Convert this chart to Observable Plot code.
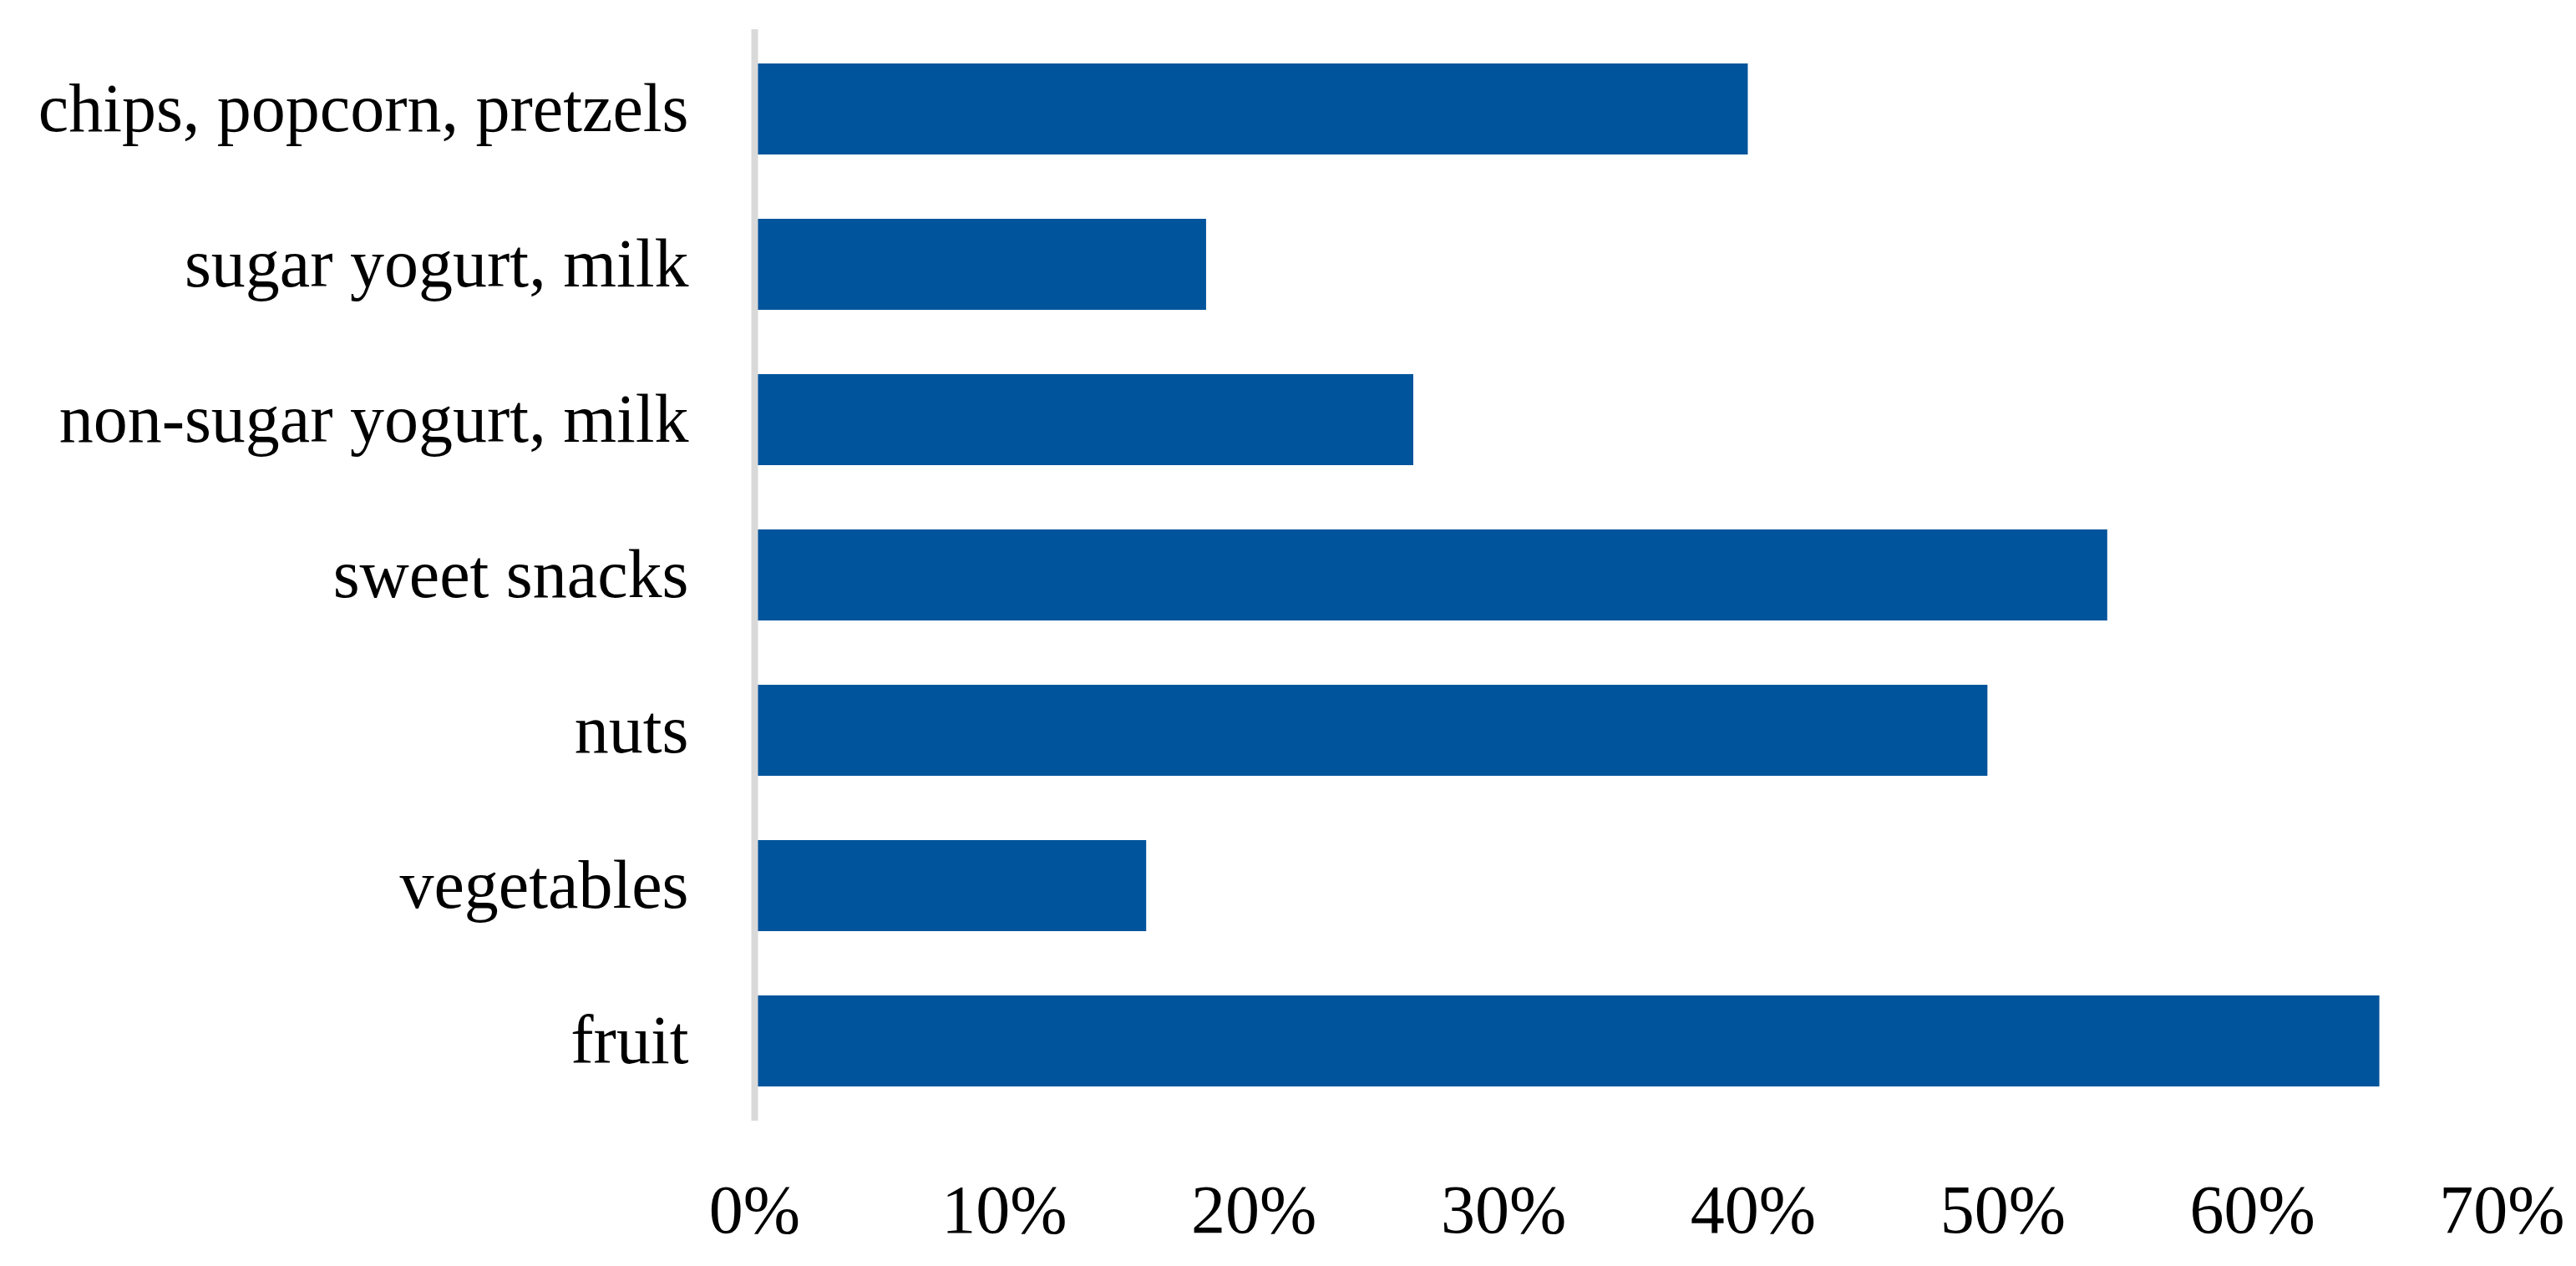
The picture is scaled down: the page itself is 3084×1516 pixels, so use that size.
<!DOCTYPE html>
<html>
<head>
<meta charset="utf-8">
<script src="https://cdn.jsdelivr.net/npm/d3@7"></script>
<script src="https://cdn.jsdelivr.net/npm/@observablehq/plot@0.6"></script>
<style>
  html, body { margin: 0; padding: 0; background: #ffffff; }
  #chart svg { display: block; }
</style>
</head>
<body>
<div id="chart"></div>
<script>
const categories = [
  "chips, popcorn, pretzels",
  "sugar yogurt, milk",
  "non-sugar yogurt, milk",
  "sweet snacks",
  "nuts",
  "vegetables",
  "fruit"
];
const values = [0.398, 0.181, 0.264, 0.542, 0.494, 0.157, 0.651];
const xTicks = [0, 0.1, 0.2, 0.3, 0.4, 0.5, 0.6, 0.7];

const data = categories.map((c, i) => ({category: c, value: values[i]}));

const chart = Plot.plot({
  width: 3084,
  height: 1516,
  marginLeft: 903,
  marginRight: 89,
  marginTop: 35,
  marginBottom: 174,
  style: {fontFamily: "'Liberation Serif', serif", background: "#ffffff", color: "#000000"},
  x: {domain: [0, 0.7]},
  y: {domain: categories, paddingInner: 0.416, paddingOuter: 0.208},
  marks: [
    Plot.barX(data, {x: "value", y: "category", fill: "#00549C"}),
    Plot.ruleX([0], {stroke: "#d9d9d9", strokeWidth: 8}),
    Plot.axisX({
      ticks: xTicks,
      tickFormat: d3.format(".0%"),
      tickSize: 0,
      tickPadding: 75,
      fontSize: 82,
      label: null,
      fill: "#000000"
    }),
    Plot.axisY({
      tickSize: 0,
      tickPadding: 79,
      fontSize: 82,
      label: null,
      fill: "#000000"
    })
  ]
});
document.getElementById("chart").appendChild(chart);
</script>
</body>
</html>
